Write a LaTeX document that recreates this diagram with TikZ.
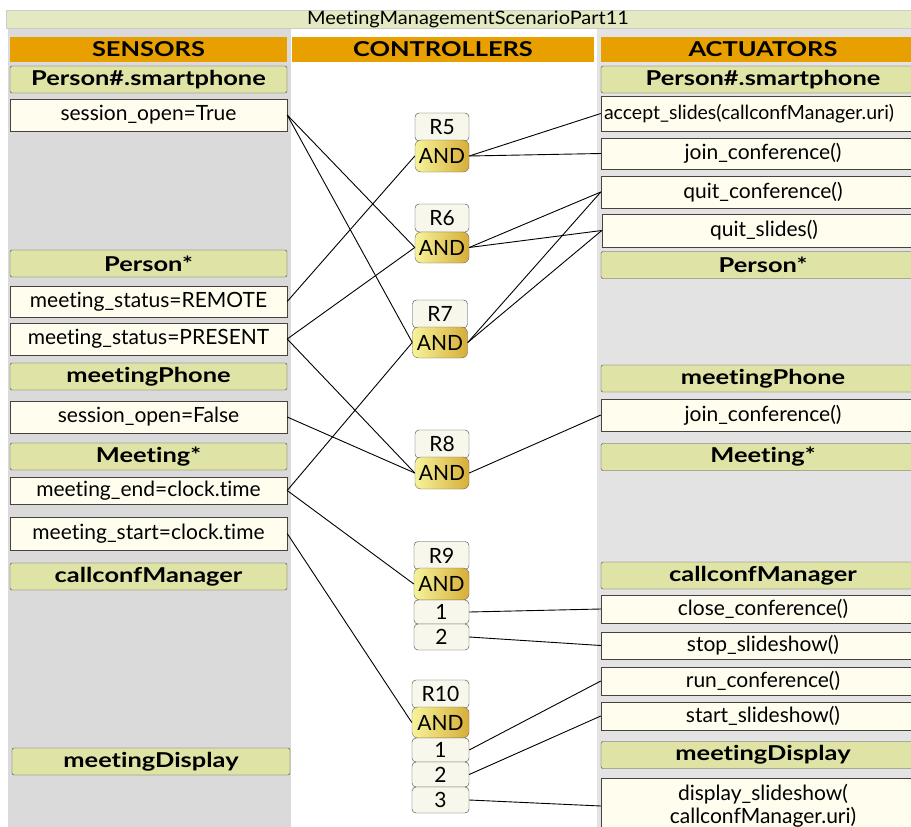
\documentclass[tikz,border=0pt]{standalone}
\usepackage{fontspec}
\setmainfont{Lato}[Ligatures=NoCommon]
\newfontfamily\widefam[FakeStretch=1.24, Ligatures=NoCommon]{Lato}
\newfontfamily\ttlfam[FakeStretch=1.08, Ligatures=NoCommon]{Lato}
\usetikzlibrary{shapes}

\definecolor{colgrayL}{HTML}{DADADA}
\definecolor{colgrayR}{HTML}{E3E3E3}
\definecolor{hdrorange}{HTML}{E8A000}
\definecolor{clsgreen}{HTML}{DFE3A6}
\definecolor{cream}{HTML}{FFFDEE}
\definecolor{rulebg}{HTML}{F7F7EB}
\definecolor{andlight}{HTML}{F6F39A}
\definecolor{anddark}{HTML}{D6AE38}
\definecolor{boxedge}{HTML}{4A4040}
\definecolor{titlegreen}{HTML}{E4E9C2}

\newcommand{\txtfont}{\fontsize{21}{23}\selectfont}
\newcommand{\hdrfont}{\widefam\fontsize{20.5}{23}\selectfont\bfseries}
\newcommand{\ttlfont}{\ttlfam\fontsize{18.5}{20}\selectfont}

\tikzstyle{titlebar} = [rectangle, minimum width=924pt, minimum height=18pt, inner sep=0pt, text centered, draw=gray!40, fill=titlegreen, font=\ttlfont]
\tikzstyle{colhdr} = [rectangle, minimum height=25pt, inner sep=0pt, text centered, fill=hdrorange, font=\hdrfont]
\tikzstyle{classhdr} = [rectangle, rounded corners=2pt, minimum height=27pt, inner sep=0pt, text centered, draw=boxedge, fill=clsgreen, font=\hdrfont]
\tikzstyle{sensorbox} = [rectangle, minimum width=277pt, inner sep=0pt, text centered, draw=boxedge, fill=cream, font=\txtfont]
\tikzstyle{actbox} = [rectangle, minimum width=324pt, inner sep=0pt, text centered, draw=boxedge, fill=cream, font=\txtfont]
\tikzstyle{rulename} = [rectangle, rounded corners=4pt, minimum height=28pt, inner sep=0pt, text centered, draw=boxedge, fill=rulebg, font=\txtfont]
\tikzstyle{andbox} = [rectangle, rounded corners=6pt, minimum height=32pt, inner sep=0pt, text centered, draw=boxedge!80, left color=andlight, right color=anddark, font=\txtfont]
\tikzstyle{outbox} = [rectangle, rounded corners=4pt, minimum height=25pt, inner sep=0pt, text centered, draw=boxedge, fill=rulebg, font=\txtfont]
\tikzstyle{link} = [black, line width=0.9pt]

\begin{document}
\begin{tikzpicture}[x=1pt, y=-1pt]

\useasboundingbox (0,0) rectangle (911,827);
\clip (0,0) rectangle (911,827);
\fill [white] (0,0) rectangle (911,827);

% columns
\fill [colgrayL] (8,20) rectangle (291,827);
\fill [colgrayR] (597,20) rectangle (911,827);

\node (title) [titlebar] at (468,19) {MeetingManagementScenarioPart11};

\node (hs) [colhdr, minimum width=277pt] at (148.5,49.5) {SENSORS};
\node (hc) [colhdr, minimum width=302pt] at (443,49.5) {CONTROLLERS};
\node (ha) [colhdr, minimum width=324pt] at (763,49.5) {ACTUATORS};

% sensors
\node (l1) [classhdr, minimum width=277pt] at (148.5,79.5) {Person\#.smartphone};
\node (s1) [sensorbox, minimum height=32pt] at (148.5,115) {session\_open=True};
\node (l2) [classhdr, minimum width=277pt] at (148.5,263.5) {Person*};
\node (s2) [sensorbox, minimum height=31pt] at (148.5,301.5) {meeting\_status=REMOTE};
\node (s3) [sensorbox, minimum height=32pt] at (148.5,339) {meeting\_status=PRESENT};
\node (l3) [classhdr, minimum width=277pt] at (148.5,376.5) {meetingPhone};
\node (s4) [sensorbox, minimum height=32pt] at (148.5,417) {session\_open=False};
\node (l4) [classhdr, minimum width=277pt] at (148.5,456.5) {Meeting*};
\node (s5) [sensorbox, minimum height=27pt] at (148.5,490.5) {meeting\_end=clock.time};
\node (s6) [sensorbox, minimum height=33pt] at (148.5,533.5) {meeting\_start=clock.time};
\node (l5) [classhdr, minimum width=277pt] at (148.5,576.5) {callconfManager};
\node (l6) [classhdr, minimum width=278pt] at (151,761.5) {meetingDisplay};

% controllers
\node (r5) [rulename, minimum width=54pt] at (442,127) {R5};
\node (r5and) [andbox, minimum width=54pt] at (442,156) {AND};
\node (r6) [rulename, minimum width=54pt] at (442,218) {R6};
\node (r6and) [andbox, minimum width=54pt, minimum height=31pt] at (442,247.5) {AND};
\node (r7) [rulename, minimum width=55pt] at (440,314) {R7};
\node (r7and) [andbox, minimum width=55pt, minimum height=31pt] at (440,342.5) {AND};
\node (r8) [rulename, minimum width=54pt] at (442,444) {R8};
\node (r8and) [andbox, minimum width=54pt] at (442,473) {AND};
\node (r9) [rulename, minimum width=55pt] at (441.5,555.5) {R9};
\node (r9and) [andbox, minimum width=55pt] at (441.5,584) {AND};
\node (r9o1) [outbox, minimum width=55pt, minimum height=24pt] at (441.5,612) {1};
\node (r9o2) [outbox, minimum width=55pt, minimum height=26pt] at (441.5,637) {2};
\node (r10) [rulename, minimum width=57pt] at (440.5,694) {R10};
\node (r10and) [andbox, minimum width=57pt, minimum height=31pt] at (440.5,722.5) {AND};
\node (r10o1) [outbox, minimum width=57pt, minimum height=24pt] at (440.5,750) {1};
\node (r10o2) [outbox, minimum width=57pt, minimum height=25pt] at (440.5,774.5) {2};
\node (r10o3) [outbox, minimum width=57pt, minimum height=26pt] at (440.5,800) {3};

% actuators
\node (m1) [classhdr, minimum width=324pt] at (763,79.5) {Person\#.smartphone};
\node (a1) [actbox, minimum height=35pt] at (763,113.5) {};
\node [anchor=west, inner sep=0pt, font=\fontsize{19.5}{22}\selectfont] at (a1.west) {\hspace{3pt}accept\_slides(callconfManager.uri)};
\node (a2) [actbox, minimum height=31pt] at (763,153.5) {join\_conference()};
\node (a3) [actbox, minimum height=32pt] at (763,192) {quit\_conference()};
\node (a4) [actbox, minimum height=33pt] at (764,230.5) {quit\_slides()};
\node (m2) [classhdr, minimum width=324pt] at (763,265) {Person*};
\node (m3) [classhdr, minimum width=324pt] at (763,378.5) {meetingPhone};
\node (a5) [actbox, minimum height=32pt] at (763,415) {join\_conference()};
\node (m4) [classhdr, minimum width=324pt] at (763,457) {Meeting*};
\node (m5) [classhdr, minimum width=324pt] at (763,575.5) {callconfManager};
\node (a6) [actbox, minimum height=28pt] at (763,609) {close\_conference()};
\node (a7) [actbox, minimum height=27pt] at (763,645.5) {stop\_slideshow()};
\node (a8) [actbox, minimum height=28pt] at (763,681) {run\_conference()};
\node (a9) [actbox, minimum height=28pt] at (763,716) {start\_slideshow()};
\node (m6) [classhdr, minimum width=324pt] at (763,755) {meetingDisplay};
\node (a10) [actbox, minimum height=56pt, align=center] at (763,806) {display\_slideshow(\\callconfManager.uri)};

% sensors to rules
\draw [link] (s1.east) -- (r6and.west);
\draw [link] (s1.east) -- (r7and.west);
\draw [link] (s2.east) -- (r5and.west);
\draw [link] (s3.east) -- (r6and.west);
\draw [link] (s3.east) -- (r8and.west);
\draw [link] (s4.east) -- (r8and.west);
\draw [link] (s5.east) -- (r7and.west);
\draw [link] (s5.east) -- (r9and.west);
\draw [link] (s6.east) -- (r10and.west);

% rules to actuators
\draw [link] (r5and.east) -- (a1.west);
\draw [link] (r5and.east) -- (a2.west);
\draw [link] (r6and.east) -- (a3.west);
\draw [link] (r6and.east) -- (a4.west);
\draw [link] (r7and.east) -- (a3.west);
\draw [link] (r7and.east) -- (a4.west);
\draw [link] (r8and.east) -- (a5.west);
\draw [link] (r9o1.east) -- (a6.west);
\draw [link] (r9o2.east) -- (a7.west);
\draw [link] (r10o1.east) -- (a8.west);
\draw [link] (r10o2.east) -- (a9.west);
\draw [link] (r10o3.east) -- (a10.west);

\end{tikzpicture}
\end{document}
